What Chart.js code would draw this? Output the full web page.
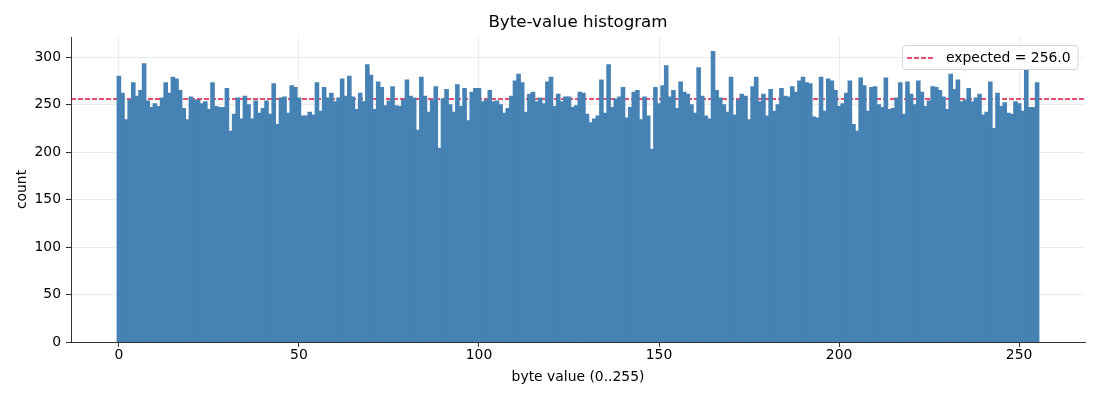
<!DOCTYPE html>
<html>
<head>
<meta charset="utf-8">
<title>Byte-value histogram</title>
<script src="https://cdn.jsdelivr.net/npm/chart.js@4.4.1/dist/chart.umd.min.js"></script>
<style>
  html, body { margin: 0; padding: 0; background: #fff; }
  #chart { display: block; }
</style>
</head>
<body>
<canvas id="chart" width="1100" height="400"></canvas>
<script>
/* Byte-value histogram: counts per byte value 0..255 */

const counts = [
  280, 262, 234, 255, 273, 259, 265, 293, 254, 247, 251, 248, 257, 273, 262, 279,
  277, 265, 246, 234, 258, 255, 255, 251, 253, 245, 273, 248, 247, 247, 267, 222,
  240, 257, 235, 259, 250, 235, 254, 241, 246, 254, 240, 272, 229, 257, 258, 241,
  270, 268, 257, 238, 238, 242, 239, 273, 243, 268, 257, 262, 253, 257, 277, 259,
  280, 258, 245, 262, 253, 292, 281, 245, 274, 268, 249, 254, 269, 249, 248, 255,
  276, 259, 257, 223, 279, 259, 242, 255, 269, 204, 256, 266, 250, 242, 271, 248,
  267, 233, 263, 267, 267, 253, 255, 265, 253, 254, 250, 241, 246, 259, 275, 282,
  273, 242, 261, 263, 253, 257, 251, 274, 279, 248, 261, 253, 258, 258, 247, 249,
  263, 262, 240, 231, 235, 238, 276, 241, 292, 247, 256, 258, 268, 236, 247, 263,
  265, 234, 258, 238, 203, 268, 251, 270, 291, 258, 265, 246, 274, 263, 261, 250,
  241, 289, 259, 238, 235, 306, 265, 257, 250, 242, 279, 239, 255, 261, 259, 234,
  269, 279, 253, 261, 238, 266, 243, 250, 267, 259, 258, 269, 263, 275, 279, 273,
  272, 237, 236, 279, 243, 277, 275, 265, 248, 251, 262, 275, 229, 222, 278, 270,
  243, 268, 269, 250, 247, 278, 245, 246, 257, 273, 240, 274, 261, 250, 275, 263,
  248, 254, 269, 268, 265, 258, 245, 282, 266, 276, 253, 255, 267, 253, 257, 261,
  239, 242, 274, 225, 262, 248, 252, 241, 240, 253, 251, 243, 287, 247, 247, 273
];
const expectedCount = 256.0;
const xTickValues = [0, 50, 100, 150, 200, 250];
const yTickValues = [0, 50, 100, 150, 200, 250, 300];
const xRange = [-13.3, 268.3];
const yRange = [0, 321.3];
const chartTitle = "Byte-value histogram";

const FONT = "'DejaVu Sans', 'Liberation Sans', sans-serif";
Chart.defaults.font.family = FONT;
Chart.defaults.color = "#000";

const gridColor = "rgba(176,176,176,0.3)";

// title centred over the plot area, like matplotlib's axes title
const axesTitle = {
  id: "axesTitle",
  afterDraw(chart) {
    const { ctx, chartArea } = chart;
    ctx.save();
    ctx.font = "16.7px " + FONT;
    ctx.fillStyle = "#000";
    ctx.textAlign = "center";
    ctx.textBaseline = "middle";
    ctx.fillText(chartTitle, (chartArea.left + chartArea.right) / 2, 23);
    ctx.restore();
  }
};

// matplotlib-style legend sitting inside the top right of the plot
const insideLegend = {
  id: "insideLegend",
  afterDraw(chart) {
    const { ctx, chartArea } = chart;
    const ds = chart.data.datasets[1];
    ctx.save();
    ctx.font = "13.9px " + FONT;
    const textW = ctx.measureText(ds.label).width;
    const w = 44 + textW + 7;
    const h = 24;
    const x = Math.round(chartArea.right - 7 - w);
    const y = Math.round(chartArea.top + 8);
    ctx.beginPath();
    ctx.roundRect(x + 0.5, y + 0.5, w, h, 3);
    ctx.fillStyle = "rgba(255,255,255,0.8)";
    ctx.fill();
    ctx.strokeStyle = "#d4d4d4";
    ctx.lineWidth = 1;
    ctx.stroke();
    ctx.strokeStyle = ds.borderColor;
    ctx.lineWidth = ds.borderWidth;
    ctx.setLineDash(ds.borderDash);
    ctx.beginPath();
    ctx.moveTo(x + 5, y + h / 2 + 1);
    ctx.lineTo(x + 33, y + h / 2 + 1);
    ctx.stroke();
    ctx.setLineDash([]);
    ctx.fillStyle = "#000";
    ctx.textBaseline = "middle";
    ctx.fillText(ds.label, x + 44, y + h / 2 + 1);
    ctx.restore();
  }
};

new Chart(document.getElementById("chart"), {
  type: "bar",
  data: {
    datasets: [
      {
        label: "count",
        data: counts.map((c, i) => ({ x: i, y: c })),
        backgroundColor: "#4682b4",
        borderWidth: 0,
        inflateAmount: 0.5,
        barPercentage: 1.0,
        categoryPercentage: 1.0
      },
      {
        type: "line",
        label: "expected = " + expectedCount.toFixed(1),
        data: [{ x: xRange[0], y: expectedCount }, { x: xRange[1], y: expectedCount }],
        borderColor: "#dc143c",
        borderWidth: 1.4,
        borderDash: [5, 2],
        pointRadius: 0,
        fill: false
      }
    ]
  },
  options: {
    responsive: false,
    animation: false,
    devicePixelRatio: 1,
    layout: { padding: { left: 0, right: 15, top: 37, bottom: 0 } },
    plugins: {
      legend: { display: false },
      tooltip: { enabled: false },
      title: { display: false }
    },
    scales: {
      x: {
        type: "linear",
        min: xRange[0],
        max: xRange[1],
        offset: false,
        z: 1,
        afterBuildTicks: (s) => { s.ticks = xTickValues.map((v) => ({ value: v })); },
        afterFit: (s) => { s.height = 58; },
        grid: { offset: false, color: gridColor, lineWidth: 0.8, tickColor: "#000", tickLength: 5 },
        border: { color: "#000", width: 0.8 },
        ticks: { font: { size: 13.9 }, padding: 0, maxRotation: 0 },
        title: {
          display: true,
          text: "byte value (0..255)",
          font: { size: 13.9 },
          padding: { top: 0, bottom: 14 }
        }
      },
      y: {
        min: yRange[0],
        max: yRange[1],
        z: 1,
        afterBuildTicks: (s) => { s.ticks = yTickValues.map((v) => ({ value: v })); },
        afterFit: (s) => { s.width = 71; },
        grid: { color: gridColor, lineWidth: 0.8, tickColor: "#000", tickLength: 5 },
        border: { color: "#000", width: 0.8 },
        ticks: { font: { size: 13.9 }, padding: 5 },
        title: {
          display: true,
          text: "count",
          font: { size: 13.9 },
          padding: { top: 14, bottom: 0 }
        }
      }
    }
  },
  plugins: [axesTitle, insideLegend]
});
</script>
</body>
</html>
